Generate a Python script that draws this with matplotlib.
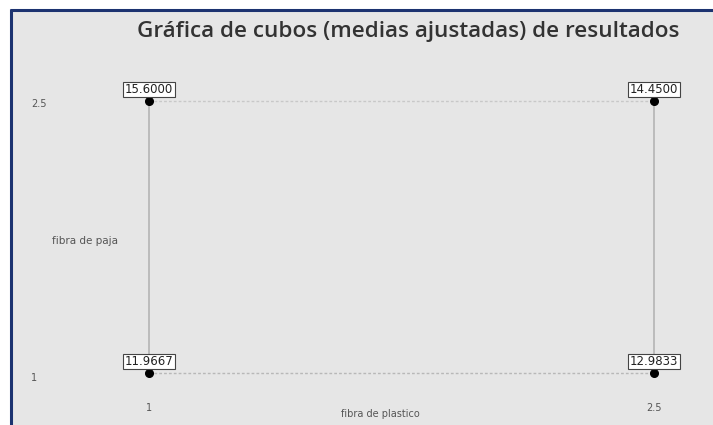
import matplotlib
matplotlib.use("Agg")
import matplotlib.pyplot as plt
from matplotlib.patches import Rectangle

# Data
plastico_levels = [1, 2.5]
paja_levels = [1, 2.5]
x_vals = [1, 2.5, 1, 2.5]
y_vals = [1, 1, 2.5, 2.5]
means = [11.9667, 12.9833, 15.6000, 14.4500]
x_tick_labels = ["1", "2.5"]
y_tick_labels = ["1", "2.5"]
title = "Gráfica de cubos (medias ajustadas) de resultados"
xlabel = "fibra de plastico"
ylabel = "fibra de paja"

W, H = 713, 425
fig = plt.figure(figsize=(W / 100, H / 100), dpi=100, facecolor="white")

# background panel & border (figure pixel coordinates)
bg = fig.add_axes([0, 0, 1, 1])
bg.set_xlim(0, W)
bg.set_ylim(H, 0)
bg.axis("off")
bg.add_patch(Rectangle((11, 10), W - 11, H - 10, facecolor="#e6e6e6", edgecolor="none"))
bg.plot([10.5, 10.5], [9, H], color="#1c3370", lw=2.2, solid_capstyle="butt")
bg.plot([10, W], [9.5, 9.5], color="#1c3370", lw=2.2, solid_capstyle="butt")

# data axes mapped so that levels fall at the right pixel positions
px1, px2 = 149, 654
py1, py2 = 373, 101
sx = (px2 - px1) / 1.5
sy = (py1 - py2) / 1.5
ax = fig.add_axes([0, 0, 1, 1])
ax.patch.set_alpha(0)
ax.set_xlim(1 - px1 / sx, 1 + (W - px1) / sx)
ax.set_ylim(1 - (H - py1) / sy, 1 + py1 / sy)
ax.axis("off")

# cube edges
lo, hi = plastico_levels
ax.plot([lo, lo], [paja_levels[0], paja_levels[1]], color="#b4b4b4", lw=1.2, zorder=1)
ax.plot([hi, hi], [paja_levels[0], paja_levels[1]], color="#b4b4b4", lw=1.2, zorder=1)
ax.plot([lo, hi], [paja_levels[0], paja_levels[0]], color="#b8b8b8", lw=1.0, ls=(0, (2, 1.5)), zorder=1)
ax.plot([lo, hi], [paja_levels[1], paja_levels[1]], color="#c8c8c8", lw=1.0, ls=(0, (2, 1.5)), zorder=1)

ax.plot(x_vals, y_vals, "o", color="black", ms=5.5, zorder=3)

for x, y, m in zip(x_vals, y_vals, means):
    ax.annotate(f"{m:.4f}", (x, y), xytext=(0, 8.3), textcoords="offset points",
                ha="center", va="center", fontsize=8.5, color="#222222",
                family="DejaVu Sans",
                bbox=dict(boxstyle="square,pad=0.12", facecolor="white",
                          edgecolor="#444444", lw=0.8), zorder=4)

# tick labels
for xv, lab in zip(plastico_levels, x_tick_labels):
    ax.annotate(lab, (xv, paja_levels[0]), xytext=(0, -25.5), textcoords="offset points",
                ha="center", va="center", fontsize=7, color="#555555")
ax.annotate(y_tick_labels[0], (lo, paja_levels[0]), xytext=(-83, -3.5), textcoords="offset points",
            ha="center", va="center", fontsize=7, color="#555555")
ax.annotate(y_tick_labels[1], (lo, paja_levels[1]), xytext=(-79, -2.5), textcoords="offset points",
            ha="center", va="center", fontsize=7, color="#555555")

# axis labels and title
fig.text(380 / W, 1 - 414 / H, xlabel, ha="center", va="center", fontsize=7, color="#555555")
fig.text(85 / W, 1 - 241 / H, ylabel, ha="center", va="center", fontsize=7.5, color="#555555")
fig.text(408 / W, 1 - 31 / H, title, ha="center", va="center", fontsize=16.2,
         family="Open Sans", weight="semibold", color="#333333")

fig.savefig("out.png", dpi=100, facecolor="white")
